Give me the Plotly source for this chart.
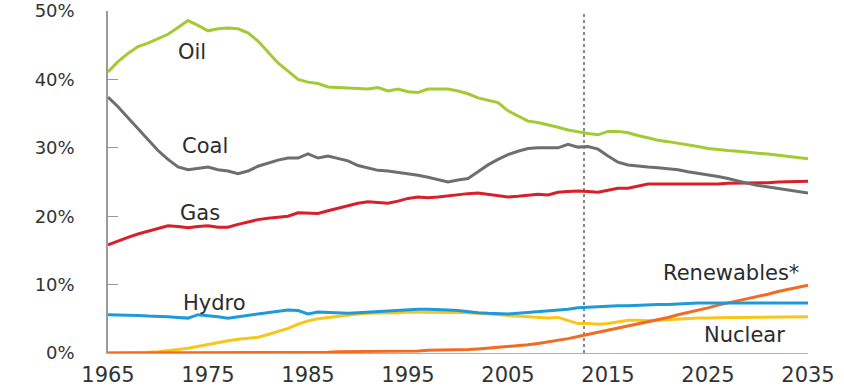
import plotly.graph_objects as go

years = list(range(1965, 2036))

oil = [41.1, 42.6, 43.8, 44.8, 45.3, 45.9, 46.6, 47.6, 48.6, 47.9,
       47.1, 47.4, 47.5, 47.4, 46.8, 45.6, 44.0, 42.4, 41.2, 40.0,
       39.6, 39.4, 38.9, 38.8, 38.7, 38.6, 38.6, 38.8, 38.3, 38.6,
       38.2, 38.1, 38.6, 38.6, 38.6, 38.3, 37.9, 37.3, 37.0, 36.6,
       35.4, 34.7, 33.9, 33.7, 33.4, 33.0, 32.6, 32.3, 32.1, 31.9,
       32.4, 32.4, 32.2, 31.8, 31.4, 31.1, 30.9, 30.7, 30.4, 30.2,
       29.9, 29.7, 29.6, 29.5, 29.3, 29.2, 29.1, 28.9, 28.8, 28.6, 28.4]

coal = [37.4, 36.0, 34.4, 32.8, 31.1, 29.6, 28.3, 27.2, 26.8, 27.0,
        27.2, 26.8, 26.6, 26.2, 26.6, 27.3, 27.8, 28.2, 28.5, 28.5,
        29.1, 28.5, 28.8, 28.5, 28.1, 27.4, 27.0, 26.7, 26.6, 26.4,
        26.3, 26.0, 25.7, 25.4, 25.0, 25.3, 25.5, 26.5, 27.5, 28.3,
        29.0, 29.5, 29.9, 30.0, 30.0, 30.0, 30.5, 30.1, 30.2, 29.8,
        28.8, 27.9, 27.5, 27.3, 27.2, 27.1, 27.0, 26.8, 26.5, 26.3,
        26.0, 25.8, 25.5, 25.1, 24.8, 24.5, 24.3, 24.0, 23.8, 23.6, 23.4]

gas = [15.8, 16.4, 16.9, 17.4, 17.8, 18.2, 18.6, 18.5, 18.3, 18.5,
       18.6, 18.4, 18.4, 18.8, 19.2, 19.5, 19.7, 19.8, 20.0, 20.5,
       20.4, 20.4, 20.8, 21.2, 21.5, 21.9, 22.1, 22.0, 21.9, 22.2,
       22.6, 22.8, 22.7, 22.8, 23.0, 23.2, 23.3, 23.4, 23.2, 23.0,
       22.8, 22.9, 23.1, 23.2, 23.1, 23.5, 23.6, 23.7, 23.6, 23.5,
       23.8, 24.1, 24.1, 24.4, 24.7, 24.7, 24.7, 24.6, 24.6, 24.6,
       24.7, 24.7, 24.8, 24.8, 24.9, 24.9, 24.9, 25.0, 25.0, 25.1, 25.1]

hydro = [5.6, 5.6, 5.5, 5.5, 5.4, 5.4, 5.3, 5.2, 5.1, 5.6,
         5.5, 5.3, 5.1, 5.3, 5.6, 5.7, 5.9, 6.1, 6.3, 6.2,
         5.7, 6.0, 5.9, 5.8, 5.8, 5.9, 6.0, 6.1, 6.2, 6.3,
         6.4, 6.4, 6.4, 6.4, 6.3, 6.2, 6.0, 5.9, 5.8, 5.7,
         5.7, 5.8, 5.9, 6.1, 6.1, 6.2, 6.4, 6.6, 6.7, 6.8,
         6.8, 6.9, 6.9, 7.0, 7.0, 7.1, 7.1, 7.2, 7.2, 7.3,
         7.3, 7.3, 7.3, 7.3, 7.3, 7.3, 7.3, 7.3, 7.3, 7.3, 7.3]

nuclear = [0.0, 0.0, 0.1, 0.1, 0.1, 0.2, 0.3, 0.5, 0.7, 1.0,
           1.3, 1.5, 1.8, 2.0, 2.1, 2.3, 2.7, 3.1, 3.6, 4.2,
           4.7, 5.0, 5.2, 5.4, 5.5, 5.7, 5.8, 5.8, 5.9, 5.9,
           6.0, 6.0, 6.0, 6.0, 6.0, 6.0, 5.9, 5.8, 5.7, 5.6,
           5.5, 5.4, 5.2, 5.1, 5.1, 5.2, 4.8, 4.3, 4.3, 4.2,
           4.3, 4.5, 4.8, 4.8, 4.7, 4.8, 4.9, 5.0, 5.1, 5.1,
           5.1, 5.2, 5.2, 5.2, 5.2, 5.2, 5.3, 5.3, 5.3, 5.3, 5.3]

renewables = [0.0, 0.0, 0.0, 0.0, 0.0, 0.0, 0.0, 0.0, 0.0, 0.0,
              0.0, 0.0, 0.0, 0.0, 0.0, 0.1, 0.1, 0.1, 0.1, 0.1,
              0.1, 0.1, 0.1, 0.2, 0.2, 0.2, 0.2, 0.2, 0.3, 0.3,
              0.3, 0.3, 0.4, 0.4, 0.4, 0.5, 0.5, 0.6, 0.7, 0.8,
              0.9, 1.0, 1.2, 1.4, 1.6, 1.8, 2.1, 2.4, 2.7, 3.0,
              3.4, 3.7, 4.0, 4.3, 4.6, 4.9, 5.2, 5.6, 5.9, 6.3,
              6.6, 7.0, 7.3, 7.7, 8.0, 8.3, 8.6, 9.0, 9.3, 9.6, 9.9]

y_tickvals = [0, 10, 20, 30, 40, 50]
y_ticktext = ["0%", "10%", "20%", "30%", "40%", "50%"]
x_tickvals = [1965, 1975, 1985, 1995, 2005, 2015, 2025, 2035]
x_ticktext = ["1965", "1975", "1985", "1995", "2005", "2015", "2025", "2035"]

forecast_start = 2012.6

series = [
    ("Nuclear", nuclear, "#f8c61a"),
    ("Renewables*", renewables, "#f26b21"),
    ("Hydro", hydro, "#1f9ad8"),
    ("Gas", gas, "#d91f2b"),
    ("Coal", coal, "#6e6e6e"),
    ("Oil", oil, "#a2cb32"),
]

labels = [
    ("Oil", 1973.4, 44.0),
    ("Coal", 1974.7, 30.3),
    ("Gas", 1974.2, 20.5),
    ("Hydro", 1975.6, 7.3),
    ("Renewables*", 2027.3, 11.7),
    ("Nuclear", 2028.6, 2.6),
]

fig = go.Figure()
for name, vals, color in series:
    fig.add_trace(go.Scatter(x=years, y=vals, mode="lines", name=name,
                             line=dict(color=color, width=3),
                             showlegend=False, hoverinfo="skip",
                             cliponaxis=False))

for text, x, y in labels:
    fig.add_annotation(x=x, y=y, text=text, showarrow=False,
                       xanchor="center", yanchor="middle",
                       font=dict(family="DejaVu Sans", size=21, color="#2b2b2b"))

fig.add_shape(type="line", x0=forecast_start, x1=forecast_start, y0=0, y1=50,
              xref="x", yref="y",
              line=dict(color="#8a8a8a", width=2, dash="dot"), layer="below")

fig.update_layout(
    width=844, height=390,
    margin=dict(l=108, r=36, t=11, b=37, autoexpand=False),
    paper_bgcolor="white", plot_bgcolor="white",
    font=dict(family="DejaVu Sans", color="#3a3a3a"),
    xaxis=dict(range=[1965, 2035], tickvals=x_tickvals, ticktext=x_ticktext,
               showgrid=False, zeroline=False, showline=True,
               linecolor="#b0b0b0", linewidth=1, ticks="",
               tickfont=dict(size=21, color="#333333"),
               ticklabelstandoff=3, automargin=False),
    yaxis=dict(range=[0, 50], tickvals=y_tickvals, ticktext=y_ticktext,
               showgrid=False, zeroline=False, showline=True,
               linecolor="#9a9a9a", linewidth=1.5, ticks="inside",
               ticklen=10, tickcolor="#9a9a9a", tickwidth=1,
               tickfont=dict(size=18, color="#333333"),
               ticklabelstandoff=28, automargin=False, layer="above traces"),
)

# remove the default 8px page margin so the figure fills the window exactly
fig.write_html("out.html",
               config={"displayModeBar": False},
               post_script="document.body.style.margin='0';")
